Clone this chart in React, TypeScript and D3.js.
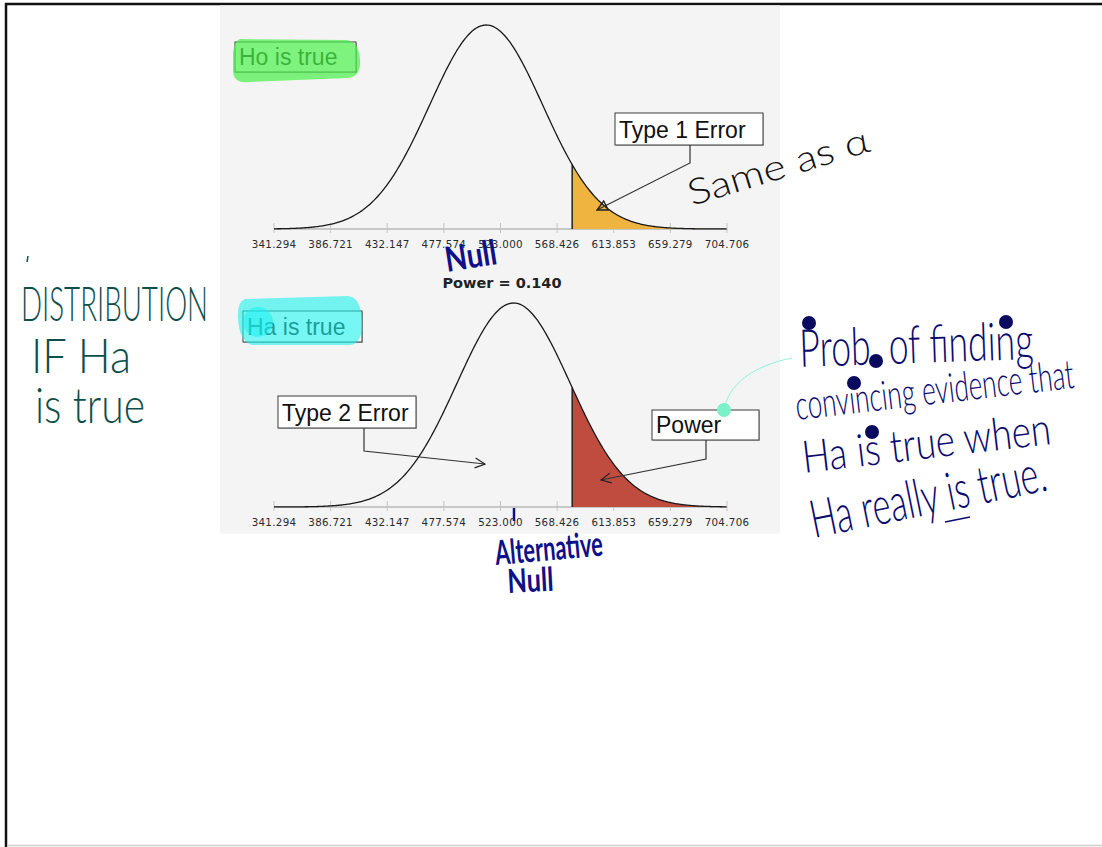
import React from "react";
import * as d3 from "d3";

// ---- data ----
const tickValues = [341.294, 386.721, 432.147, 477.574, 523.0, 568.426, 613.853, 659.279, 704.706];
const tickLabels = ["341.294", "386.721", "432.147", "477.574", "523.000", "568.426", "613.853", "659.279", "704.706"];
const standardError = 45.4265;
const nullMean = 511.5; // where the drawn null curve peaks
const altMean = 533.5; // where the drawn alternative curve peaks
const criticalValue = 580.5; // start of the shaded tail
const powerLabel = "Power = 0.140";
const boxLabels = ["Ho is true", "Type 1 Error", "Ha is true", "Type 2 Error", "Power"];
const handNotes = ["Same as \u03b1", "Null", "Alternative", "Null"];
const leftNote = ["DISTRIBUTION", "IF Ha", "is true"];
const rightNote = ["Prob. of finding", "convincing evidence that", "Ha is true when", "Ha really is true."];

const W = 1102;
const H = 847;

const x = d3.scaleLinear().domain([tickValues[0], tickValues[tickValues.length - 1]]).range([274, 727]);
const pdf = (v: number, m: number) => Math.exp(-0.5 * ((v - m) / standardError) ** 2);

function Chart({ mean, baseline, fill }: { mean: number; baseline: number; fill: string }) {
  const y = d3.scaleLinear().domain([0, 1]).range([baseline, baseline - 204]);
  const xs = d3.range(tickValues[0], tickValues[tickValues.length - 1] + 0.01, 1);
  const line = d3.line<number>().x((v) => x(v)).y((v) => y(pdf(v, mean)));
  const tail = xs.filter((v) => v >= criticalValue);
  const area = d3.area<number>().x((v) => x(v)).y0(baseline).y1((v) => y(pdf(v, mean)));
  return (
    <g>
      <line x1={x.range()[0]} x2={x.range()[1]} y1={baseline} y2={baseline} stroke="#b9b9b9" strokeWidth={1.5} />
      {tickValues.map((t, i) => (
        <g key={i}>
          <line x1={x(t)} x2={x(t)} y1={baseline - 6} y2={baseline + 4} stroke="#c4c4c4" strokeWidth={1} />
          <text x={x(t)} y={baseline + 19} textAnchor="middle" fontFamily="DejaVu Sans, Verdana, sans-serif" fontSize={10.3} letterSpacing={0.3} fill="#2a2a2a">
            {tickLabels[i]}
          </text>
        </g>
      ))}
      <path d={area([criticalValue, ...tail]) || ""} fill={fill} />
      <line x1={x(criticalValue)} x2={x(criticalValue)} y1={baseline} y2={y(pdf(criticalValue, mean))} stroke="#222" strokeWidth={1.5} />
      <path d={line(xs) || ""} fill="none" stroke="#1a1a1a" strokeWidth={1.3} />
    </g>
  );
}

function LabelBox({ bx, by, w, h, text }: { bx: number; by: number; w: number; h: number; text: string }) {
  return (
    <g>
      <rect x={bx + 1} y={by + 1} width={w} height={h} fill="#bcbcbc" />
      <rect x={bx} y={by} width={w} height={h} fill="#ffffff" stroke="#3a3a3a" strokeWidth={1} />
      <text x={bx + 4} y={by + h - 7} fontFamily="Liberation Sans, Arial, sans-serif" fontSize={23} fill="#111">
        {text}
      </text>
    </g>
  );
}

const hand = "Lato, Liberation Sans Narrow, sans-serif";

function Hand({ tx, ty, rot = 0, fs, sy, len, color, text, weight = 400 }: {
  tx: number; ty: number; rot?: number; fs: number; sy: number; len: number; color: string; text: string; weight?: number;
}) {
  return (
    <text
      transform={`translate(${tx},${ty}) rotate(${rot}) scale(1,${sy})`}
      fontFamily={hand}
      fontSize={fs}
      fontWeight={weight}
      fill={color}
      textLength={len}
      lengthAdjust="spacingAndGlyphs"
    >
      {text}
    </text>
  );
}

const teal = "#0f4f4a";
const navy = "#0b0b6e";

export default function App() {
  return (
    <svg width={W} height={H} style={{ position: "absolute", left: 0, top: 0, background: "#fff" }}>
      <defs>
        <marker id="chev" viewBox="0 0 12 12" refX={11} refY={6} markerWidth={12} markerHeight={12} orient="auto" markerUnits="userSpaceOnUse">
          <path d="M1,1 L11,6 L1,11" fill="none" stroke="#222" strokeWidth={1.2} />
        </marker>
        <marker id="tri" viewBox="0 0 12 12" refX={11} refY={6} markerWidth={12} markerHeight={12} orient="auto" markerUnits="userSpaceOnUse">
          <path d="M1,1 L11,6 L1,11 Z" fill="none" stroke="#222" strokeWidth={1.4} />
        </marker>
      </defs>

      {/* page frame */}
      <line x1={5} x2={W} y1={4} y2={4} stroke="#111" strokeWidth={2.5} />
      <line x1={6} x2={6} y1={3} y2={H} stroke="#111" strokeWidth={2.5} />
      <line x1={7} x2={W} y1={845.5} y2={845.5} stroke="#d0d0d0" strokeWidth={1.5} />

      {/* pasted panel */}
      <rect x={220} y={5.5} width={560} height={528} fill="#f4f4f5" />

      <Chart mean={nullMean} baseline={229} fill="#efb43f" />
      <Chart mean={altMean} baseline={507} fill="#bf4c3f" />

      <text x={502} y={288} textAnchor="middle" fontFamily="DejaVu Sans, Verdana, sans-serif" fontWeight="bold" fontSize={14.5} fill="#222">
        {powerLabel}
      </text>

      {/* label boxes and leaders */}
      <LabelBox bx={235} by={42} w={121} h={30} text={boxLabels[0]} />
      <LabelBox bx={615} by={113} w={148} h={32} text={boxLabels[1]} />
      <path d="M690,145 L690,163 L597,210" fill="none" stroke="#333" strokeWidth={1.2} markerEnd="url(#tri)" />

      <LabelBox bx={243} by={311} w={119} h={31} text={boxLabels[2]} />
      <LabelBox bx={278} by={396} w={138} h={32} text={boxLabels[3]} />
      <path d="M364,428 L364,451 L485,464" fill="none" stroke="#333" strokeWidth={1.2} markerEnd="url(#chev)" />
      <LabelBox bx={652} by={410} w={107} h={30} text={boxLabels[4]} />
      <path d="M706,440 L706,459 L601,480" fill="none" stroke="#333" strokeWidth={1.2} markerEnd="url(#chev)" />

      {/* highlighters */}
      <path d="M240,39 Q235,40 233,52 L233,72 Q234,84 250,82 L348,78 Q361,77 360,60 Q359,41 346,40 Z" fill="#4cf04c" opacity={0.72} />
      <path d="M245,299 Q237,302 238,318 Q239,341 252,345 L350,345 Q363,343 362,322 Q361,297 348,296 Z" fill="#22f2ee" opacity={0.62} />
      <circle cx={258} cy={322} r={15} fill="#18f0f0" opacity={0.55} />

      {/* mint connector */}
      <path d="M724,410 C728,385 752,366 792,358" fill="none" stroke="#8ff2d6" strokeWidth={1} />
      <circle cx={724} cy={410} r={7} fill="#7cf0c9" />

      {/* handwritten notes */}
      <Hand tx={692} ty={206} rot={-17} fs={30} sy={1.2} len={188} color="#111" text={handNotes[0]} weight={300} />
      <Hand tx={447} ty={272} rot={-9} fs={24} sy={1.45} len={52} color="#10108a" text={handNotes[1]} weight={700} />
      <line x1={514} x2={514} y1={508} y2={521} stroke="#10108a" strokeWidth={2.5} />
      <Hand tx={496} ty={565} rot={-5} fs={22} sy={1.55} len={108} color="#10108a" text={handNotes[2]} weight={700} />
      <Hand tx={508} ty={593} rot={-3} fs={22} sy={1.5} len={46} color="#10108a" text={handNotes[3]} weight={700} />

      <path d="M28,256 L27,262" stroke={teal} strokeWidth={1.5} />
      <Hand tx={21} ty={321} fs={28} sy={1.7} len={187} color={teal} text={leftNote[0]} weight={300} />
      <Hand tx={31} ty={373} fs={28} sy={1.7} len={100} color={teal} text={leftNote[1]} weight={300} />
      <Hand tx={35} ty={423} fs={28} sy={1.75} len={110} color={teal} text={leftNote[2]} weight={300} />

      <Hand tx={800} ty={367} rot={-2} fs={30} sy={1.75} len={234} color={navy} text={rightNote[0]} weight={300} />
      <Hand tx={797} ty={420} rot={-6.6} fs={27} sy={1.5} len={280} color={navy} text={rightNote[1]} weight={300} />
      <Hand tx={804} ty={473} rot={-6.7} fs={28} sy={1.6} len={250} color={navy} text={rightNote[2]} weight={300} />
      <Hand tx={814} ty={538} rot={-11.5} fs={30} sy={1.75} len={240} color={navy} text={rightNote[3]} weight={300} />
      <line x1={945} x2={970} y1={522} y2={517} stroke={navy} strokeWidth={1.5} />

      {/* ink dots */}
      <circle cx={809} cy={323} r={7} fill="#0a0a5e" />
      <circle cx={876} cy={361} r={7} fill="#0a0a5e" />
      <circle cx={854} cy={383} r={7} fill="#0a0a5e" />
      <circle cx={1006} cy={322} r={7} fill="#0a0a5e" />
      <circle cx={872} cy={432} r={7} fill="#0a0a5e" />
    </svg>
  );
}
